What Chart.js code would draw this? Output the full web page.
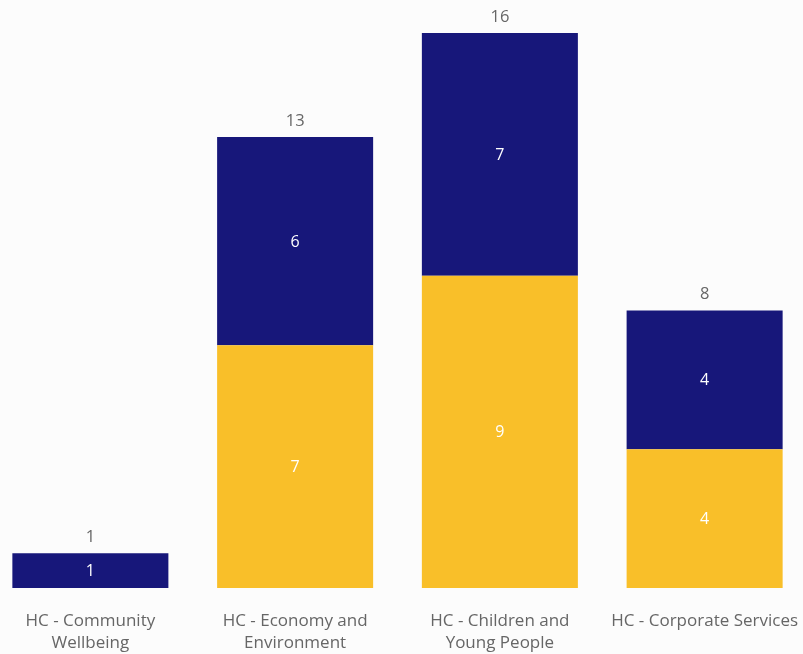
<!DOCTYPE html>
<html lang="en">
<head>
    <meta charset="UTF-8">
    <title>HC chart</title>
    <style>
        body {
            margin: 0;
            padding: 0;
            background-color: #fcfcfc;
            overflow: hidden;
        }
        .wrap {
            width: 803px;
            height: 654px;
            overflow: hidden;
            position: relative;
        }
        .wrap canvas {
            position: absolute;
            left: -12px;
            top: 0;
        }
    </style>
</head>
<body>
    <div class="wrap">
        <canvas id="hcChart" width="819" height="654" style="width: 819px; height: 654px;"></canvas>
    </div>

    <script src="https://cdn.jsdelivr.net/npm/chart.js"></script>
    <script>
        const categories = [
            ['HC - Community', 'Wellbeing'],
            ['HC - Economy and', 'Environment'],
            ['HC - Children and', 'Young People'],
            'HC - Corporate Services'
        ];
        const yellowValues = [0, 7, 9, 4];
        const navyValues = [1, 6, 7, 4];

        const fontFamily = "'Open Sans', 'Noto Sans', sans-serif";

        // draws the value inside each segment and the total above each stack
        const labelPlugin = {
            id: 'stackLabels',
            afterDatasetsDraw(chart) {
                const ctx = chart.ctx;
                ctx.save();
                ctx.textAlign = 'center';
                ctx.textBaseline = 'middle';

                chart.data.datasets.forEach((ds, i) => {
                    const meta = chart.getDatasetMeta(i);
                    meta.data.forEach((bar, j) => {
                        const v = ds.data[j];
                        if (!v) return;
                        ctx.fillStyle = '#ffffff';
                        ctx.font = '16px ' + fontFamily;
                        ctx.fillText(v, bar.x, (bar.y + bar.base) / 2 + 1);
                    });
                });

                const topMeta = chart.getDatasetMeta(chart.data.datasets.length - 1);
                topMeta.data.forEach((bar, j) => {
                    const total = chart.data.datasets.reduce((s, ds) => s + ds.data[j], 0);
                    ctx.fillStyle = '#666666';
                    ctx.font = '16.5px ' + fontFamily;
                    ctx.fillText(total, bar.x, bar.y - 16);
                });
                ctx.restore();
            }
        };

        const ctx = document.getElementById('hcChart').getContext('2d');
        new Chart(ctx, {
            type: 'bar',
            data: {
                labels: categories,
                datasets: [
                    {
                        label: 'Yellow',
                        data: yellowValues,
                        backgroundColor: '#f9bf29',
                        borderWidth: 0
                    },
                    {
                        label: 'Navy',
                        data: navyValues,
                        backgroundColor: '#17177a',
                        borderWidth: 0
                    }
                ]
            },
            options: {
                responsive: false,
                animation: false,
                layout: {
                    padding: { top: 33, left: 0, right: 0, bottom: 0 }
                },
                datasets: {
                    bar: {
                        barPercentage: 0.762,
                        categoryPercentage: 1.0
                    }
                },
                scales: {
                    x: {
                        stacked: true,
                        grid: { display: false },
                        border: { display: false },
                        ticks: {
                            color: '#666666',
                            padding: 14,
                            maxRotation: 0,
                            autoSkip: false,
                            font: { family: fontFamily, size: 17, lineHeight: 1.3 }
                        },
                        afterFit(scale) {
                            scale.height = 66;
                            scale.paddingLeft = 0;
                            scale.paddingRight = 0;
                        }
                    },
                    y: {
                        stacked: true,
                        display: false,
                        min: 0,
                        max: 16
                    }
                },
                plugins: {
                    legend: { display: false },
                    tooltip: { enabled: false }
                }
            },
            plugins: [labelPlugin]
        });
    </script>
</body>
</html>
